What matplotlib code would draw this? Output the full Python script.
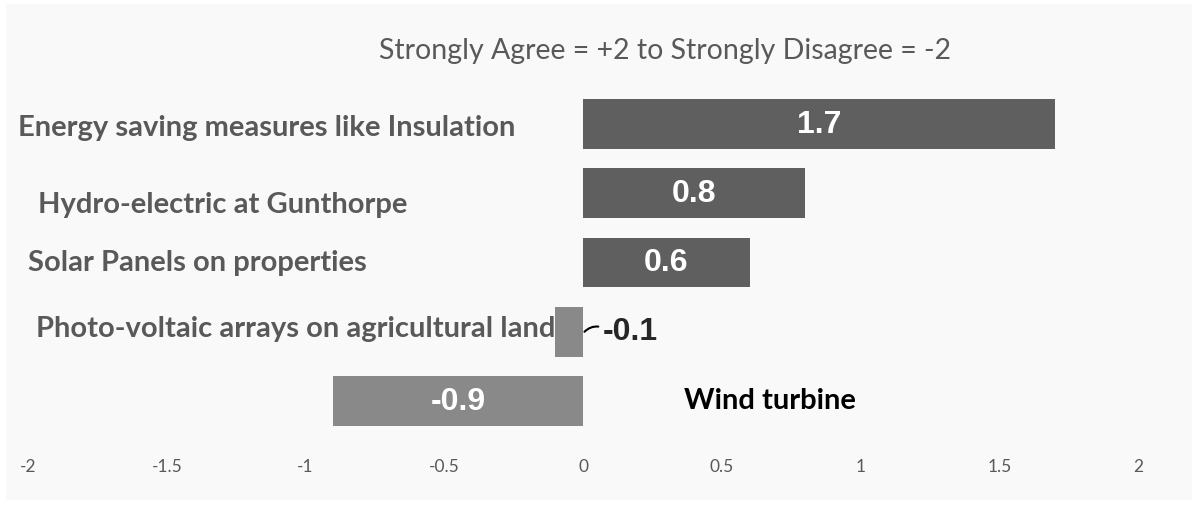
import matplotlib.pyplot as plt
import matplotlib.transforms as mtransforms
from matplotlib.patches import Rectangle

categories = ["Energy saving measures like Insulation",
              "Hydro-electric at Gunthorpe",
              "Solar Panels on properties",
              "Photo-voltaic arrays on agricultural land",
              "Wind turbine"]
scores = [1.7, 0.8, 0.6, -0.1, -0.9]
ticks = [-2, -1.5, -1, -0.5, 0, 0.5, 1, 1.5, 2]
tick_labels = ["-2", "-1.5", "-1", "-0.5", "0", "0.5", "1", "1.5", "2"]

# where each category label sits (axes-fraction x), copied from the picture layout
label_x = [-0.009, 0.009, 0.0, 0.007, 0.591]
label_dy = [0.04, 0.15, 0.0, -0.05, -0.02]

fig = plt.figure(figsize=(11.98, 5.06), dpi=100, facecolor="white")
fig.patches.append(Rectangle((0.005, 0.01), 0.99, 0.98, transform=fig.transFigure,
                             facecolor="#f9f9f9", edgecolor="none", zorder=-10))

ax = fig.add_axes([0.0234, 0.137, 0.9266, 0.6845])
ax.set_facecolor("none")

ypos = list(range(len(scores)))
colors = ["#5f5f5f" if s > 0 else "#898989" for s in scores]
ax.barh(ypos, scores, height=0.72, color=colors)

ax.set_xlim(-2, 2)
ax.set_ylim(len(scores) - 0.5, -0.5)
ax.set_xticks(ticks)
ax.set_xticklabels(tick_labels, fontsize=12.5, color="#595959", family="Lato")
ax.tick_params(axis="x", length=0, pad=16)
ax.set_yticks([])
for s in ax.spines.values():
    s.set_visible(False)

blend = mtransforms.blended_transform_factory(ax.transAxes, ax.transData)
for i, (cat, s) in enumerate(zip(categories, scores)):
    col = "black" if cat == "Wind turbine" else "#595959"
    ax.text(label_x[i], i + label_dy[i], cat, transform=blend, ha="left", va="center",
            fontsize=21, fontweight="bold", color=col, family="Lato")
    if abs(s) >= 0.3:
        ax.text(s / 2, i, f"{s:.1f}", ha="center", va="center", color="white",
                fontsize=23, fontweight="bold", family="Liberation Sans")
    else:
        ax.annotate(f"{s:.1f}", xy=(0.005, i), xytext=(0.07, i - 0.01),
                    ha="left", va="center", fontsize=23, fontweight="bold",
                    color="#262626", family="Liberation Sans",
                    arrowprops=dict(arrowstyle="-", color="black", lw=1.5,
                                    relpos=(0, 0.62),
                                    connectionstyle="arc3,rad=0.3",
                                    shrinkA=1, shrinkB=0))

fig.text(0.555, 0.9, "Strongly Agree = +2 to Strongly Disagree = -2",
         ha="center", va="center", fontsize=20.5, color="#595959", family="Lato")

fig.savefig("out.png", dpi=100, facecolor="white")
